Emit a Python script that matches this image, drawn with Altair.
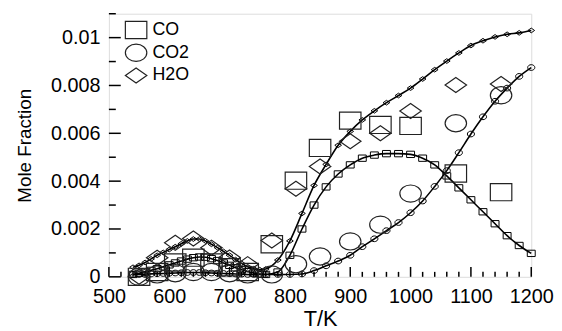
import altair as alt
import pandas as pd

# ---- data ----
MODEL_T = [540, 550, 560, 570, 580, 590, 600, 610, 620, 630, 640, 650, 660, 670, 680,
           690, 700, 710, 720, 730, 740, 750, 760, 780, 800, 820, 840, 860, 880, 900,
           920, 940, 960, 980, 1000, 1020, 1040, 1060, 1080, 1100, 1120, 1140, 1160,
           1180, 1200]
H2O_MODEL = [0.0004, 0.00048, 0.0006, 0.00075, 0.0009, 0.00102, 0.00114, 0.00126, 0.00138,
             0.0015, 0.00158, 0.00158, 0.0015, 0.00136, 0.00122, 0.00106, 0.0009, 0.00072,
             0.00056, 0.00042, 0.00034, 0.0003, 0.00033, 0.0007, 0.0015, 0.00265, 0.00382,
             0.0047, 0.0055, 0.00608, 0.00656, 0.00694, 0.00728, 0.00758, 0.00789, 0.00827,
             0.00866, 0.00902, 0.00936, 0.00967, 0.00987, 0.01003, 0.01014, 0.0102, 0.0103]
CO_MODEL = [0.0001, 0.00015, 0.0002, 0.00027, 0.00034, 0.00042, 0.0005, 0.00058, 0.00066,
            0.00074, 0.0008, 0.00083, 0.00082, 0.00076, 0.00068, 0.00058, 0.00048, 0.00038,
            0.0003, 0.00022, 0.00016, 0.00012, 0.0001, 0.0002, 0.0009, 0.002, 0.003, 0.00376,
            0.0043, 0.00468, 0.00496, 0.00509, 0.00515, 0.00515, 0.00512, 0.00496, 0.00468,
            0.00422, 0.00372, 0.00322, 0.00272, 0.00222, 0.00172, 0.00131, 0.00098]
CO2_MODEL = [0.0001, 0.0001, 0.0001, 0.00012, 0.00013, 0.00014, 0.00015, 0.00016, 0.00017,
             0.00018, 0.00018, 0.00018, 0.00017, 0.00016, 0.00015, 0.00014, 0.00013, 0.00012,
             0.00011, 0.0001, 0.0001, 0.0001, 0.0001, 0.0001, 0.0001, 0.00012, 0.00026,
             0.00046, 0.00066, 0.0009, 0.00126, 0.00159, 0.00193, 0.00227, 0.00268, 0.00317,
             0.00378, 0.00444, 0.00519, 0.00597, 0.00669, 0.00734, 0.00789, 0.00838, 0.00875]

EXP_T = [550, 580, 610, 640, 670, 700, 730, 770, 810, 850, 900, 950, 1000, 1075, 1150]
CO_EXP = [0.0, 0.0002, 0.0006, 0.0008, 0.0006, 0.0004, 0.0002, 0.00136, 0.00402, 0.00539,
          0.00653, 0.00635, 0.00631, 0.00432, 0.00354]
CO2_EXP = [0.0, 0.0001, 0.00015, 0.0002, 0.0002, 0.00015, 0.0001, 0.0001, 0.00053, 0.00085,
           0.00148, 0.00218, 0.00348, 0.00642, 0.00759]
H2O_EXP = [0.0, 0.0008, 0.00142, 0.0016, 0.00122, 0.00081, 0.00053, 0.00152, 0.00368,
           0.00461, 0.00567, 0.006, 0.00693, 0.00802, 0.00806]

SPECIES = ["CO", "CO2", "H2O"]
X_MAJOR = [500, 600, 700, 800, 900, 1000, 1100, 1200]
X_MINOR = [t for t in range(500, 1201, 20) if t % 100 != 0]
Y_MAJOR = [0.0, 0.002, 0.004, 0.006, 0.008, 0.01]
Y_MINOR = [0.001, 0.003, 0.005, 0.007, 0.009, 0.011]

# ---- tables ----
model = pd.concat([
    pd.DataFrame({"T": MODEL_T, "v": CO_MODEL, "species": "CO"}),
    pd.DataFrame({"T": MODEL_T, "v": CO2_MODEL, "species": "CO2"}),
    pd.DataFrame({"T": MODEL_T, "v": H2O_MODEL, "species": "H2O"}),
])
exp = pd.concat([
    pd.DataFrame({"T": EXP_T, "v": CO_EXP, "species": "CO"}),
    pd.DataFrame({"T": EXP_T, "v": CO2_EXP, "species": "CO2"}),
    pd.DataFrame({"T": EXP_T, "v": H2O_EXP, "species": "H2O"}),
])

SQUARE = "M-1,-0.8L1,-0.8L1,0.8L-1,0.8Z"
ELLIPSE = "M-1,0A1,0.8,0,1,1,1,0A1,0.8,0,1,1,-1,0Z"
DIAMOND = "M0,-0.7L1,0L0,0.7L-1,0Z"
SHAPES = {"CO": SQUARE, "CO2": ELLIPSE, "H2O": DIAMOND}

FONT = "Liberation Sans"
W, H = 427, 266

xs = alt.Scale(domain=[500, 1200], nice=False, zero=False)
ys = alt.Scale(domain=[0, 0.011], nice=False, zero=False)
xaxis = alt.Axis(values=X_MAJOR, format="d", ticks=False, domain=False, grid=False,
                 labelFont=FONT, labelFontSize=20, labelColor="black", labelPadding=10,
                 labelFlush=False, labelOverlap=False,
                 title="T/K", titleFont=FONT, titleFontSize=22, titleFontWeight="normal",
                 titleColor="black", titlePadding=2)
yaxis = alt.Axis(values=Y_MAJOR, format=".3~f", ticks=False, domain=False, grid=False,
                 labelFont=FONT, labelFontSize=20, labelColor="black", labelPadding=9,
                 labelFlush=False, labelOverlap=False,
                 title="Mole Fraction", titleFont=FONT, titleFontSize=19,
                 titleFontWeight="normal", titleColor="black", titlePadding=16)

X = alt.X("T:Q", scale=xs, axis=xaxis)
Y = alt.Y("v:Q", scale=ys, axis=yaxis)

lines = alt.Chart(model).mark_line(color="black", strokeWidth=1.6,
                                   interpolate="monotone").encode(
    x=X, y=Y, detail="species:N")

marker_layers = []
for sp, sz in [("CO", 64), ("CO2", 52), ("H2O", 46)]:
    marker_layers.append(
        alt.Chart(model).transform_filter(alt.datum.species == sp)
        .mark_point(shape=SHAPES[sp], size=sz, filled=False, stroke="black",
                    strokeWidth=1.0, opacity=1)
        .encode(x=X, y=Y)
    )

exp_pts = alt.Chart(exp).mark_point(size=471, filled=False, stroke="#222",
                                    strokeWidth=1.2, opacity=1).encode(
    x=X, y=Y,
    shape=alt.Shape("species:N",
                    scale=alt.Scale(domain=SPECIES,
                                    range=[SHAPES[s] for s in SPECIES]),
                    legend=alt.Legend(orient="none", legendX=16, legendY=5, title=None,
                                      labelFont=FONT, labelFontSize=18,
                                      labelColor="black", symbolSize=471,
                                      symbolStrokeWidth=1.2, symbolStrokeColor="#222",
                                      symbolFillColor="transparent", rowPadding=0,
                                      labelOffset=5, padding=0)),
)

ytick_major = alt.Chart(pd.DataFrame({"v": Y_MAJOR})).mark_rule(
    color="black", strokeWidth=1.5).encode(y=Y, x=alt.value(0), x2=alt.value(12))
ytick_minor = alt.Chart(pd.DataFrame({"v": Y_MINOR})).mark_rule(
    color="black", strokeWidth=1.5).encode(y=Y, x=alt.value(0), x2=alt.value(7))
xtick_major = alt.Chart(pd.DataFrame({"T": X_MAJOR})).mark_rule(
    color="black", strokeWidth=1.5).encode(x=X, y=alt.value(H), y2=alt.value(H - 10))
xtick_minor = alt.Chart(pd.DataFrame({"T": X_MINOR})).mark_rule(
    color="black", strokeWidth=1.5).encode(x=X, y=alt.value(H), y2=alt.value(H - 5))

chart = alt.layer(
    ytick_major, ytick_minor, xtick_major, xtick_minor,
    lines, *marker_layers, exp_pts,
).properties(
    width=W, height=H,
    autosize=alt.AutoSizeParams(type="none"),
    padding={"left": 102, "top": 4, "right": 23, "bottom": 53},
).configure_view(
    stroke="black", strokeWidth=2
).configure(background="white")

chart.save("out.html", embed_options={"renderer": "svg", "actions": False})
